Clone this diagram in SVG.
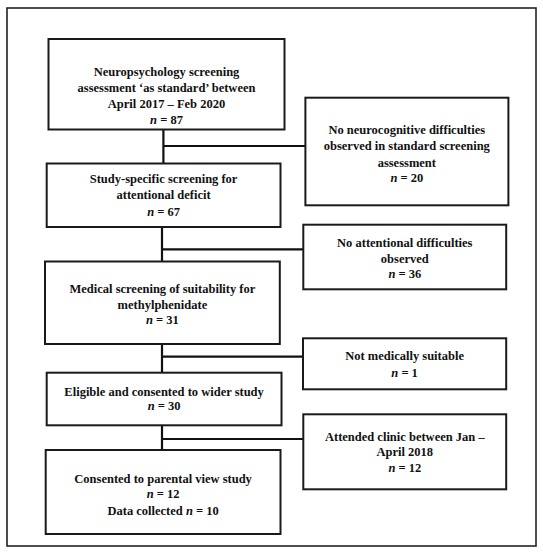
<svg xmlns="http://www.w3.org/2000/svg" width="543" height="555" viewBox="0 0 543 555">
<style>
.box{fill:#fff;stroke:#1a1a1a;stroke-width:2}
.frame{fill:#fff;stroke:#222;stroke-width:1.6}
.conn{stroke:#111;stroke-width:2.2;fill:none}
text{font-family:"Liberation Serif","DejaVu Serif",serif;font-weight:bold;font-size:12.5px;fill:#111;text-anchor:middle}
.i{font-style:italic}
</style>
<rect class="frame" x="7" y="8" width="529" height="538"/>
<g id="connectors">
<path class="conn" d="M163.4 129.5V163.5M163.4 146H305.4"/>
<path class="conn" d="M162 227V261.5M162 249.3H303.3"/>
<path class="conn" d="M162 344V372.7M162 356.7H303"/>
<path class="conn" d="M162 425.3V450M162 439H303.3"/>
</g>
<g id="n1">
<rect class="box" x="48.5" y="39" width="236" height="90.5"/>
<text x="166.5" y="75.5">Neuropsychology screening</text>
<text x="166.5" y="91.5">assessment ‘as standard’ between</text>
<text x="166.5" y="108">April 2017 – Feb 2020</text>
<text x="166.5" y="123.5"><tspan class="i">n</tspan> = 87</text>
</g>
<g id="r1">
<rect class="box" x="305.4" y="97.7" width="203" height="107.6"/>
<text x="406.8" y="133.5">No neurocognitive difficulties</text>
<text x="406.8" y="150">observed in standard screening</text>
<text x="406.8" y="166.5">assessment</text>
<text x="406.8" y="181.5"><tspan class="i">n</tspan> = 20</text>
</g>
<g id="n2">
<rect class="box" x="46.7" y="163.5" width="233.8" height="63.5"/>
<text x="163.6" y="183">Study-specific screening for</text>
<text x="163.6" y="198.5">attentional deficit</text>
<text x="163.6" y="215.5"><tspan class="i">n</tspan> = 67</text>
</g>
<g id="r2">
<rect class="box" x="303.3" y="224.7" width="202.9" height="64.6"/>
<text x="404.8" y="246.5">No attentional difficulties</text>
<text x="404.8" y="262.5">observed</text>
<text x="404.8" y="277.5"><tspan class="i">n</tspan> = 36</text>
</g>
<g id="n3">
<rect class="box" x="45" y="261.5" width="234.8" height="82.5"/>
<text x="162.4" y="292.5">Medical screening of suitability for</text>
<text x="162.4" y="308.5">methylphenidate</text>
<text x="162.4" y="323.5"><tspan class="i">n</tspan> = 31</text>
</g>
<g id="r3">
<rect class="box" x="303" y="338.3" width="203.2" height="51"/>
<text x="404.6" y="360">Not medically suitable</text>
<text x="404.6" y="377"><tspan class="i">n</tspan> = 1</text>
</g>
<g id="n4">
<rect class="box" x="46.7" y="372.7" width="234.8" height="52.6"/>
<text x="164.1" y="395.5">Eligible and consented to wider study</text>
<text x="164.1" y="409.5"><tspan class="i">n</tspan> = 30</text>
</g>
<g id="r4">
<rect class="box" x="303.3" y="414.3" width="202.9" height="75"/>
<text x="404.8" y="440.5">Attended clinic between Jan –</text>
<text x="404.8" y="456">April 2018</text>
<text x="404.8" y="471.5"><tspan class="i">n</tspan> = 12</text>
</g>
<g id="n5">
<rect class="box" x="45.7" y="450" width="234.8" height="84"/>
<text x="163.1" y="482.5">Consented to parental view study</text>
<text x="163.1" y="498"><tspan class="i">n</tspan> = 12</text>
<text x="163.1" y="514.5">Data collected <tspan class="i">n</tspan> = 10</text>
</g>
</svg>
